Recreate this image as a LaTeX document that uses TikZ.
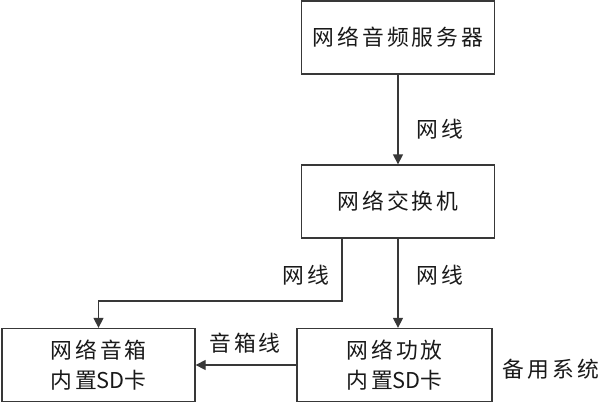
\documentclass[tikz,border=0pt]{standalone}
\usepackage{fontspec}
\newfontfamily\cjk[LetterSpace=14]{Noto Sans CJK SC}
\newfontfamily\cjktight{Noto Sans CJK SC}
\newcommand{\sdcard}{内置{\cjktight SD}卡}
\usetikzlibrary{arrows.meta}

\begin{document}
\begin{tikzpicture}[x=0.5mm, y=-0.5mm, line width=0.65mm, color=black!78,
  box/.style={draw, rectangle, inner sep=0pt, minimum width=96.5mm, minimum height=36.5mm,
    align=center, text=black!90, font=\cjk\fontsize{31pt}{42pt}\selectfont},
  lbl/.style={text=black!90, font=\cjk\fontsize{31pt}{42pt}\selectfont},
  arr/.style={-{Triangle[length=5mm,width=5mm]}}]
  \useasboundingbox (0,0) rectangle (600,402);

  \node [box] (server) at (398, 37.5) {网络音频服务器};
  \node [box] (switch) at (398, 201.5) {网络交换机};
  \node [box] (speaker) at (98.5, 365) {网络音箱\\\sdcard};
  \node [box, minimum width=97.5mm] (amp) at (394.5, 365) {网络功放\\\sdcard};
  \node [lbl] (spare) at (551, 369) {备用系统};

  \draw [arr] (server.south) -- (switch.north);
  \node [lbl] (wire1) at (440, 129) {网线};

  \coordinate (bend) at (342, 301);
  \draw [arr] (switch.south -| bend) -- (bend) -| (speaker.north);
  \node [lbl] (wire2) at (306, 275) {网线};

  \draw [arr] (switch.south) -- (switch.south |- amp.north);
  \node [lbl] (wire3) at (440, 275) {网线};

  \draw [arr] (amp.west) -- (speaker.east);
  \node [lbl] (cable) at (245, 343) {音箱线};
\end{tikzpicture}
\end{document}
